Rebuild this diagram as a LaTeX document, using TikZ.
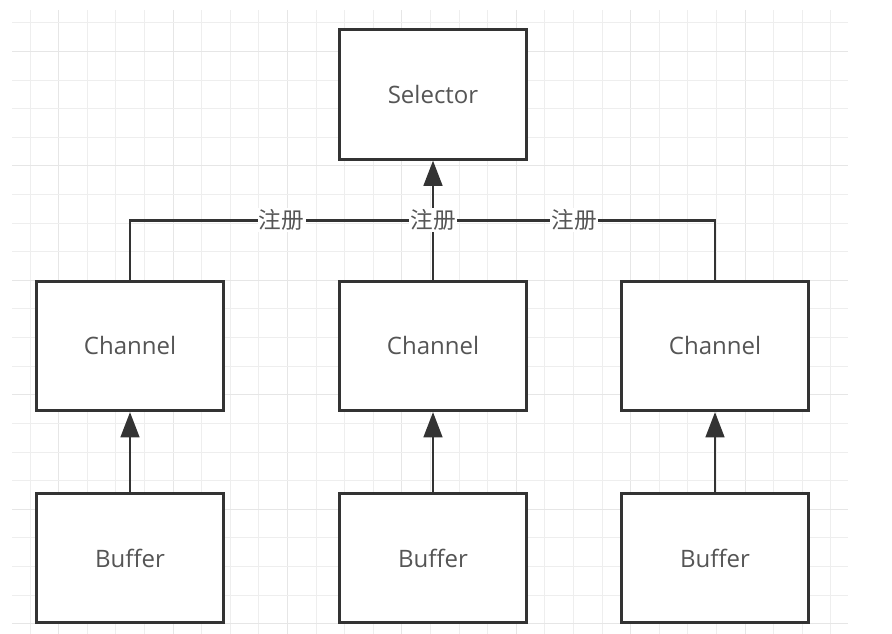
\documentclass[tikz,border=0pt]{standalone}
\usepackage{fontspec}
\setmainfont{Open Sans}
\newfontfamily\cjk{Noto Sans CJK SC}
\usepackage{tikz}
\usetikzlibrary{arrows.meta,calc}
\usepackage{xcolor}
\definecolor{inkgray}{HTML}{333333}
\definecolor{textgray}{HTML}{555555}
\definecolor{gridminor}{HTML}{EEEEEE}
\definecolor{gridmajor}{HTML}{E6E6E6}

\begin{document}
\begin{tikzpicture}
        [   x = 0.75pt
        ,   y = -0.75pt
        ,   box/.style =
            {   draw = inkgray
            ,   line width = 2.1pt
            ,   fill = white
            ,   minimum width = 140pt
            ,   minimum height = 97pt
            ,   text = textgray
            ,   font = \fontsize{18}{22}\selectfont
            }
        ,   wire/.style =
            {   draw = inkgray
            ,   line width = 2pt
            }
        ,   tip/.style =
            {   -{Triangle[length=19pt,width=14pt]}
            }
        ,   tag/.style =
            {   fill = white
            ,   inner sep = 1pt
            ,   text = textgray
            ,   font = \cjk\fontsize{17}{20}\selectfont
            }
        ]
        \useasboundingbox (0,0) rectangle (892,634);
        \foreach \k in {1,...,29}
        {   \pgfmathsetmacro\gx{1.5+28.6*\k}
            \pgfmathtruncatemacro\gm{mod(\k-2,4)}
            \ifnum\gm=0
                \draw[gridmajor, line width=0.75pt] (\gx,10) -- (\gx,634);
            \else
                \draw[gridminor, line width=0.75pt] (\gx,10) -- (\gx,634);
            \fi
        }
        \foreach \k in {0,...,21}
        {   \pgfmathsetmacro\gy{23+28.6*\k}
            \pgfmathtruncatemacro\gm{mod(\k+3,4)}
            \ifnum\gm=0
                \draw[gridmajor, line width=0.75pt] (12,\gy) -- (848,\gy);
            \else
                \draw[gridminor, line width=0.75pt] (12,\gy) -- (848,\gy);
            \fi
        }
        \node[box] (sel) at (433,94.5) {Selector};
        \node[box] (ch1) at (130,346) {Channel};
        \node[box] (ch2) at (433,346) {Channel};
        \node[box] (ch3) at (715,346) {Channel};
        \node[box] (buf1) at (130,558) {Buffer};
        \node[box] (buf2) at (433,558) {Buffer};
        \node[box] (buf3) at (715,558) {Buffer};
        \coordinate (hub) at ($(sel.south)!0.5!(ch2.north)$);
        \draw[wire] (ch1.north) |- node[tag, pos=0.75] {注册} (hub);
        \draw[wire] (ch3.north) |- node[tag, pos=0.75] {注册} (hub);
        \draw[wire, tip] (ch2.north) -- node[tag] {注册} (sel.south);
        \foreach \i in {1,2,3}
        {   \draw[wire, tip] (buf\i.north) -- (ch\i.south);
        }
    \end{tikzpicture}
\end{document}
